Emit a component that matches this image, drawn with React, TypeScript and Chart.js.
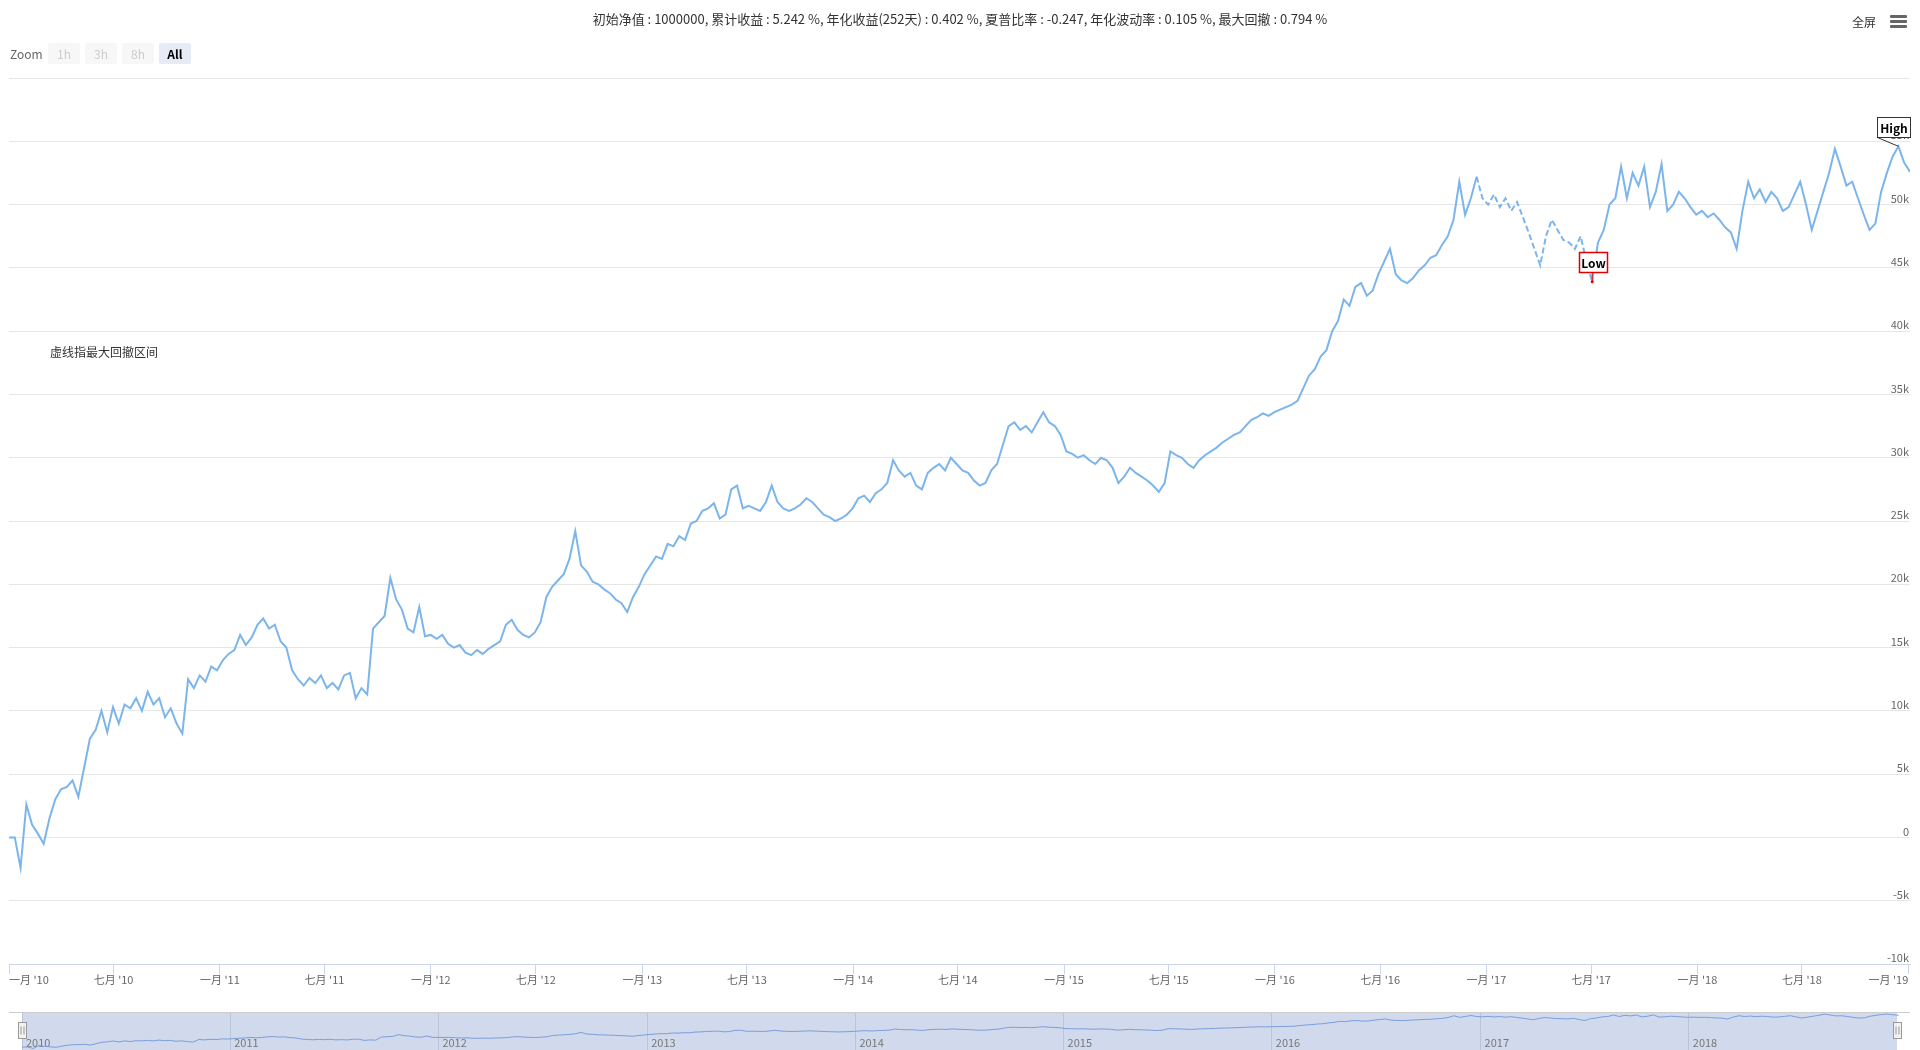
import React, { useEffect, useRef } from 'react';
import { Chart, registerables } from 'chart.js';

Chart.register(...registerables);

const FONT = '"Noto Sans CJK SC", "Noto Sans", sans-serif';
Chart.defaults.font.family = FONT;

// ---- data ----
const titleText =
  '初始净值 : 1000000, 累计收益 : 5.242 %, 年化收益(252天) : 0.402 %, 夏普比率 : -0.247, 年化波动率 : 0.105 %, 最大回撤 : 0.794 %';
const noteText = '虚线指最大回撤区间';
const zoomLabel = 'Zoom';
const zoomButtons = ['1h', '3h', '8h', 'All'];
const selectedButton = 'All';
const fullScreenText = '全屏';

// sampling: one value every STEP_DAYS days from START
const START_YEAR = 2010;
const STEP_DAYS = 10;

// cumulative profit, in thousands
const profitK = [
  // 2010
  0, 0, -2.4, 2.6, 1.0, 0.3, -0.5, 1.5, 3.0, 3.8,
  4.0, 4.5, 3.2, 5.5, 7.8, 8.5, 10.0, 8.3, 10.3, 9.0,
  10.5, 10.2, 11.0, 10.0, 11.5, 10.5, 11.0, 9.5, 10.2, 9.0,
  8.2, 12.5, 11.8, 12.8, 12.3, 13.5, 13.2,
  // 2011
  14.0, 14.5, 14.8, 16.0, 15.2, 15.8, 16.8, 17.3, 16.5, 16.8,
  15.5, 15.0, 13.2, 12.5, 12.0, 12.6, 12.2, 12.8, 11.8, 12.2,
  11.7, 12.8, 13.0, 11.0, 11.8, 11.3, 16.5, 17.0, 17.5, 20.5,
  18.8, 18.0, 16.5, 16.2, 18.2, 15.9, 16.0,
  // 2012
  15.7, 16.0, 15.3, 15.0, 15.2, 14.6, 14.4, 14.8, 14.5, 14.9,
  15.2, 15.5, 16.8, 17.2, 16.4, 16.0, 15.8, 16.2, 17.0, 19.0,
  19.8, 20.3, 20.8, 22.0, 24.2, 21.5, 21.0, 20.2, 20.0, 19.6,
  19.3, 18.8, 18.5, 17.8, 19.0, 19.8,
  // 2013
  20.8, 21.5, 22.2, 22.0, 23.2, 23.0, 23.8, 23.5, 24.8, 25.0,
  25.8, 26.0, 26.4, 25.2, 25.5, 27.5, 27.8, 26.0, 26.2, 26.0,
  25.8, 26.5, 27.8, 26.5, 26.0, 25.8, 26.0, 26.3, 26.8, 26.5,
  26.0, 25.5, 25.3, 25.0, 25.2, 25.5, 26.0,
  // 2014
  26.8, 27.0, 26.5, 27.2, 27.5, 28.0, 29.8, 29.0, 28.5, 28.8,
  27.8, 27.5, 28.8, 29.2, 29.5, 29.0, 30.0, 29.5, 29.0, 28.8,
  28.2, 27.8, 28.0, 29.0, 29.5, 31.0, 32.5, 32.8, 32.2, 32.5,
  32.0, 32.8, 33.6, 32.8, 32.5, 31.8,
  // 2015
  30.5, 30.3, 30.0, 30.2, 29.8, 29.5, 30.0, 29.8, 29.2, 28.0,
  28.5, 29.2, 28.8, 28.5, 28.2, 27.8, 27.3, 28.0, 30.5, 30.2,
  30.0, 29.5, 29.2, 29.8, 30.2, 30.5, 30.8, 31.2, 31.5, 31.8,
  32.0, 32.5, 33.0, 33.2, 33.5, 33.3, 33.6,
  // 2016
  33.8, 34.0, 34.2, 34.5, 35.5, 36.5, 37.0, 38.0, 38.5, 40.0,
  40.8, 42.5, 42.0, 43.5, 43.8, 42.8, 43.2, 44.5, 45.5, 46.5,
  44.5, 44.0, 43.8, 44.2, 44.8, 45.2, 45.8, 46.0, 46.8, 47.5,
  48.8, 51.8, 49.2, 50.5, 52.2, 50.5,
  // 2017
  50.0, 50.8, 49.8, 50.5, 49.5, 50.2, 49.0, 47.8, 46.5, 45.2,
  47.5, 48.8, 48.0, 47.2, 47.0, 46.5, 47.5, 45.5, 43.9, 47.0,
  48.0, 50.0, 50.5, 53.0, 50.5, 52.5, 51.5, 53.0, 49.8, 51.0,
  53.2, 49.5, 50.0, 51.0, 50.5, 49.8, 49.2,
  // 2018
  49.5, 49.0, 49.3, 48.8, 48.2, 47.8, 46.5, 49.5, 51.8, 50.5,
  51.2, 50.2, 51.0, 50.5, 49.5, 49.8, 50.8, 51.8, 50.0, 48.0,
  49.5, 51.0, 52.5, 54.4, 53.0, 51.5, 51.8, 50.5, 49.2, 48.0,
  48.5, 51.0, 52.5, 53.8, 54.6, 53.3, 52.6,
];

const xTickMonths = [
  '2010-01', '2010-07', '2011-01', '2011-07', '2012-01', '2012-07', '2013-01', '2013-07',
  '2014-01', '2014-07', '2015-01', '2015-07', '2016-01', '2016-07', '2017-01', '2017-07',
  '2018-01', '2018-07', '2019-01',
];
const monthNames: Record<number, string> = { 1: '一月', 7: '七月' };
const navYears = [2010, 2011, 2012, 2013, 2014, 2015, 2016, 2017, 2018];
const yTicksK = [-10, -5, 0, 5, 10, 15, 20, 25, 30, 35, 40, 45, 50, 55, 60];

// ---- derived ----
const DAY = 86400000;
const X_START = Date.UTC(START_YEAR, 0, 1);
const X_MIN = Date.UTC(2010, 0, 1);
const X_MAX = Date.UTC(2019, 0, 4);
const NAV_MAX = Date.UTC(2019, 0, 1);

const points = profitK.map((v, i) => ({ x: X_START + i * STEP_DAYS * DAY, y: v }));

function monthTs(s: string) {
  const [y, m] = s.split('-').map(Number);
  return Date.UTC(y, m - 1, 1);
}
const xTickValues = xTickMonths.map(monthTs);

let highIdx = 0;
profitK.forEach((v, i) => { if (v > profitK[highIdx]) highIdx = i; });
let ddStart = 0, ddEnd = 0, ddMax = 0;
{
  let peak = 0;
  profitK.forEach((v, i) => {
    if (v > profitK[peak]) peak = i;
    const dd = profitK[peak] - v;
    if (dd > ddMax) { ddMax = dd; ddStart = peak; ddEnd = i; }
  });
}

function fmtMonth(v: number) {
  const d = new Date(v);
  const m = d.getUTCMonth() + 1;
  const yy = String(d.getUTCFullYear()).slice(2);
  return `${monthNames[m] ?? m + '月'} '${yy}`;
}

const flagsPlugin = {
  id: 'flags',
  afterDatasetsDraw(chart: any) {
    const meta = chart.getDatasetMeta(0);
    const ctx = chart.ctx;
    const hp = meta.data[highIdx];
    const lp = meta.data[ddEnd];
    ctx.save();
    ctx.font = `bold 12px ${FONT}`;
    ctx.textAlign = 'center';
    ctx.textBaseline = 'middle';
    // High flag
    if (hp) {
      const w = 33, h = 20;
      const left = Math.round(hp.x - 21) + 0.5;
      const top = Math.round(hp.y - 29) + 0.5;
      ctx.strokeStyle = '#333333';
      ctx.lineWidth = 1;
      ctx.beginPath();
      ctx.moveTo(left, top + h);
      ctx.lineTo(hp.x, hp.y);
      ctx.stroke();
      ctx.fillStyle = '#ffffff';
      ctx.fillRect(left, top, w, h);
      ctx.strokeRect(left, top, w, h);
      ctx.fillStyle = '#000000';
      ctx.fillText('High', left + w / 2, top + h / 2 + 1);
    }
    // Low flag
    if (lp) {
      const w = 28, h = 20;
      const left = Math.round(lp.x - 13) + 0.5;
      const top = Math.round(lp.y - 30) + 0.5;
      ctx.strokeStyle = '#e00000';
      ctx.lineWidth = 1;
      ctx.beginPath();
      ctx.moveTo(lp.x, top + h);
      ctx.lineTo(lp.x, lp.y);
      ctx.stroke();
      ctx.fillStyle = '#e00000';
      ctx.beginPath();
      ctx.arc(lp.x, lp.y, 1.5, 0, Math.PI * 2);
      ctx.fill();
      ctx.fillStyle = '#ffffff';
      ctx.fillRect(left, top, w, h);
      ctx.lineWidth = 1.5;
      ctx.strokeRect(left, top, w, h);
      ctx.fillStyle = '#000000';
      ctx.fillText('Low', left + w / 2, top + h / 2 + 1);
    }
    ctx.restore();
  },
};

const NAV_AXIS_H = 14;
const navPlugin = {
  id: 'navDecor',
  beforeDraw(chart: any) {
    const { ctx, chartArea } = chart;
    ctx.save();
    ctx.fillStyle = '#d1daed';
    ctx.fillRect(chartArea.left, 0, chartArea.right - chartArea.left, chart.height);
    ctx.restore();
  },
  afterDraw(chart: any) {
    const { ctx, chartArea } = chart;
    ctx.save();
    ctx.strokeStyle = '#cccccc';
    ctx.lineWidth = 1;
    ctx.beginPath();
    ctx.moveTo(9, 0.5);
    ctx.lineTo(1910, 0.5);
    ctx.stroke();
    const handles = [chartArea.left, chartArea.right];
    handles.forEach((hx) => {
      const x = Math.round(hx - 4) + 0.5;
      const y = 10.5;
      ctx.fillStyle = '#f2f2f2';
      ctx.strokeStyle = '#999999';
      ctx.fillRect(x, y, 8, 16);
      ctx.strokeRect(x, y, 8, 16);
      ctx.beginPath();
      ctx.moveTo(x + 2.5, y + 4);
      ctx.lineTo(x + 2.5, y + 12);
      ctx.moveTo(x + 5.5, y + 4);
      ctx.lineTo(x + 5.5, y + 12);
      ctx.stroke();
    });
    ctx.restore();
  },
};

export default function App() {
  const mainRef = useRef<HTMLCanvasElement>(null);
  const navRef = useRef<HTMLCanvasElement>(null);

  useEffect(() => {
    const main = new Chart(mainRef.current as HTMLCanvasElement, {
      type: 'line',
      data: {
        datasets: [
          {
            data: points,
            borderColor: '#7cb5ec',
            borderWidth: 2,
            pointRadius: 0,
            tension: 0,
            fill: false,
            segment: {
              borderDash: (c: any) =>
                c.p0DataIndex >= ddStart && c.p1DataIndex <= ddEnd ? [6, 3] : undefined,
            },
          },
        ],
      },
      options: {
        responsive: false,
        animation: false,
        events: [],
        parsing: false,
        layout: { padding: { left: 9, right: 10, top: 78, bottom: 0 } },
        plugins: { legend: { display: false }, tooltip: { enabled: false }, title: { display: false } },
        scales: {
          x: {
            type: 'linear',
            position: 'bottom',
            min: X_MIN,
            max: X_MAX,
            afterBuildTicks: (s: any) => { s.ticks = xTickValues.map((v) => ({ value: v })); },
            afterFit: (s: any) => { s.height = 36; s.paddingLeft = 0; s.paddingRight = 0; },
            grid: { drawOnChartArea: false, drawTicks: true, tickLength: 10, color: '#ccd6eb', lineWidth: 1 },
            border: { display: true, color: '#ccd6eb', width: 1 },
            ticks: {
              align: 'inner',
              padding: -1,
              maxRotation: 0,
              autoSkip: false,
              color: '#666666',
              font: { size: 11 },
              callback: (v: any) => fmtMonth(Number(v)),
            },
          },
          y: {
            type: 'linear',
            position: 'right',
            min: -10,
            max: 60,
            afterBuildTicks: (s: any) => { s.ticks = yTicksK.map((v) => ({ value: v })); },
            afterFit: (s: any) => { s.width = 0; s.paddingTop = 0; s.paddingBottom = 0; },
            grid: { color: '#e6e6e6', drawTicks: false, lineWidth: 1 },
            border: { display: false },
            ticks: {
              mirror: true,
              padding: -1,
              labelOffset: -6,
              color: '#666666',
              font: { size: 11 },
              callback: (v: any) => (v === 60 ? '' : v === 0 ? '0' : `${v}k`),
            },
          },
        },
      } as any,
      plugins: [flagsPlugin],
    });

    const nav = new Chart(navRef.current as HTMLCanvasElement, {
      type: 'line',
      data: {
        datasets: [
          {
            data: points,
            borderColor: '#7a9edb',
            borderWidth: 1,
            pointRadius: 0,
            tension: 0,
            fill: false,
            clip: false,
          },
        ],
      },
      options: {
        responsive: false,
        animation: false,
        events: [],
        parsing: false,
        layout: { padding: { left: 22, right: 23, top: 0, bottom: 0 } },
        plugins: { legend: { display: false }, tooltip: { enabled: false } },
        scales: {
          x: {
            type: 'linear',
            min: X_MIN,
            max: NAV_MAX,
            afterBuildTicks: (s: any) => { s.ticks = navYears.map((y) => ({ value: Date.UTC(y, 0, 1) })); },
            afterFit: (s: any) => { s.height = NAV_AXIS_H; s.paddingLeft = 0; s.paddingRight = 0; },
            grid: { drawOnChartArea: true, drawTicks: true, tickLength: NAV_AXIS_H, color: '#b9c3da', lineWidth: 1 },
            border: { display: false },
            ticks: {
              align: 'start',
              padding: -14,
              labelOffset: 4,
              maxRotation: 0,
              autoSkip: false,
              color: '#777777',
              font: { size: 11 },
              callback: (v: any) => String(new Date(Number(v)).getUTCFullYear()),
            },
          },
          // plot area spans the top 24px; the line continues into the axis band (clip off)
          y: { display: false, min: 18.25, max: 58 },
        },
      } as any,
      plugins: [navPlugin],
    });

    return () => {
      main.destroy();
      nav.destroy();
    };
  }, []);

  return (
    <div
      style={{
        position: 'absolute', left: 0, top: 0, width: 1920, height: 1050,
        overflow: 'hidden', background: '#ffffff', fontFamily: FONT,
      }}
    >
      <canvas ref={mainRef} width={1920} height={1000} style={{ position: 'absolute', left: 0, top: 0 }} />
      <canvas ref={navRef} width={1920} height={38} style={{ position: 'absolute', left: 0, top: 1012 }} />
      <div
        style={{
          position: 'absolute', left: 0, top: 10, width: 1920, textAlign: 'center',
          fontSize: 13, lineHeight: '18px', color: '#333333', whiteSpace: 'nowrap',
        }}
      >
        {titleText}
      </div>
      <div style={{ position: 'absolute', left: 10, top: 46, fontSize: 12, lineHeight: '16px', color: '#666666' }}>
        {zoomLabel}
      </div>
      {zoomButtons.map((b, i) => {
        const sel = b === selectedButton;
        return (
          <div
            key={b}
            style={{
              position: 'absolute', left: 48 + i * 37, top: 43, width: 32, height: 21,
              borderRadius: 2, background: sel ? '#e6ebf5' : '#f7f7f7',
              color: sel ? '#000000' : '#cccccc', fontWeight: sel ? 'bold' : 'normal',
              fontSize: 12, lineHeight: '21px', textAlign: 'center',
            }}
          >
            {b}
          </div>
        );
      })}
      <div style={{ position: 'absolute', left: 1852, top: 14, fontSize: 12, lineHeight: '16px', color: '#333333' }}>
        {fullScreenText}
      </div>
      {[15, 20, 25].map((t) => (
        <div
          key={t}
          style={{ position: 'absolute', left: 1890, top: t, width: 17, height: 2.5, background: '#666666', borderRadius: 1 }}
        />
      ))}
      <div style={{ position: 'absolute', left: 50, top: 344, fontSize: 12, lineHeight: '16px', color: '#333333' }}>
        {noteText}
      </div>
    </div>
  );
}
